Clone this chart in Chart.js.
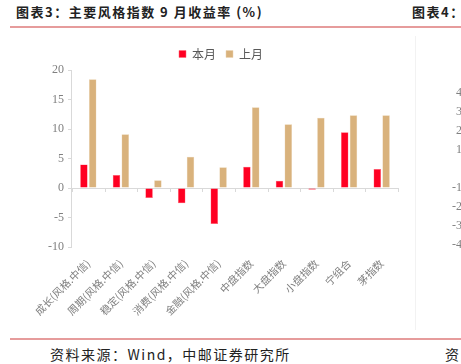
<!DOCTYPE html>
<html>
<head>
<meta charset="utf-8">
<script src="https://cdn.jsdelivr.net/npm/chart.js@4"></script>
<style>
  html, body { margin: 0; padding: 0; background: #fff; }
  body { width: 461px; height: 364px; position: relative; overflow: hidden; font-family: "Noto Sans CJK SC", sans-serif; }
  .title { position: absolute; top: 2px; font-size: 13px; font-weight: bold; color: #222; letter-spacing: 1.5px; white-space: nowrap; }
  .rule { position: absolute; left: 10px; right: 0; height: 2px; background: #e69c9c; }
  .source { position: absolute; top: 344px; font-size: 14px; color: #222; letter-spacing: 1.5px; white-space: nowrap; }
  .frame { position: absolute; left: 415px; top: 36px; width: 1px; height: 294px; background: #f2f2f2; }
  #wrap1 { position: absolute; left: 0; top: 35px; width: 444px; height: 295px; }
  #wrap2 { position: absolute; left: 449px; top: 35px; width: 300px; height: 295px; }
</style>
</head>
<body>
<div class="title" style="left:16px">图表3：主要风格指数 9 月收益率 (%)</div>
<div class="title" style="left:412px">图表4：</div>
<div class="rule" style="top:26px"></div>
<div class="frame"></div>
<div id="wrap1"><canvas id="chart1"></canvas></div>
<div id="wrap2"><canvas id="chart2"></canvas></div>
<div class="rule" style="top:338px"></div>
<div class="source" style="left:50px">资料来源：Wind，中邮证券研究所</div>
<div class="source" style="left:445px">资</div>
<script>
// categories and monthly returns (%)
const categories = ['成长(风格.中信)', '周期(风格.中信)', '稳定(风格.中信)', '消费(风格.中信)', '金融(风格.中信)',
  '中盘指数', '大盘指数', '小盘指数', '宁组合', '茅指数'];
const thisMonth = [4.0, 2.2, -1.7, -2.6, -6.1, 3.6, 1.25, -0.3, 9.45, 3.2];
const lastMonth = [18.45, 9.1, 1.3, 5.3, 3.5, 13.7, 10.8, 11.9, 12.35, 12.35];
const seriesNames = ['本月', '上月'];

// the next chart on the page, only its axis shows at the right edge
const nextCategories = ['成长(风格.中信)'];
const nextValues = [];

const axisGray = '#d9d9d9';
const textGray = '#808080';

// small tick marks on the zero line between categories
const zeroTicks = {
  id: 'zeroTicks',
  afterDatasetsDraw(chart) {
    const x = chart.scales.x, y = chart.scales.y;
    const y0 = y.getPixelForValue(0);
    const ctx = chart.ctx;
    ctx.save();
    ctx.strokeStyle = axisGray;
    ctx.lineWidth = 1;
    const step = (x.right - x.left) / categories.length;
    for (let i = 0; i <= categories.length; i++) {
      const px = Math.round(x.left + i * step) + 0.5;
      ctx.beginPath();
      ctx.moveTo(px, y0);
      ctx.lineTo(px, y0 + 4);
      ctx.stroke();
    }
    ctx.restore();
  }
};

new Chart(document.getElementById('chart1'), {
  type: 'bar',
  data: {
    labels: categories,
    datasets: [
      { label: seriesNames[0], data: thisMonth, backgroundColor: '#ff0022', borderColor: '#ff6677', borderWidth: 0.5 },
      { label: seriesNames[1], data: lastMonth, backgroundColor: '#d9b27c', borderColor: '#ead2b0', borderWidth: 0.5 }
    ]
  },
  options: {
    responsive: true,
    maintainAspectRatio: false,
    animation: false,
    layout: { padding: { left: 44, right: 46, top: 3, bottom: 0 } },
    datasets: { bar: { categoryPercentage: 0.54, barPercentage: 0.85 } },
    plugins: {
      legend: {
        position: 'top',
        labels: {
          boxWidth: 7, boxHeight: 7, padding: 10,
          color: '#595959',
          font: { family: '"Noto Sans CJK SC"', size: 12 }
        }
      },
      tooltip: { enabled: false }
    },
    scales: {
      x: {
        grid: { display: false },
        border: { display: false },
        afterFit(scale) { scale.height = 83; },
        ticks: {
          minRotation: 45, maxRotation: 45,
          color: textGray,
          font: { family: '"Noto Sans CJK SC"', size: 10.5 },
          padding: 2
        }
      },
      y: {
        min: -10, max: 20,
        ticks: { stepSize: 5, color: textGray, font: { family: '"Liberation Serif"', size: 12 }, padding: 4 },
        border: { color: axisGray },
        grid: {
          drawOnChartArea: true,
          color: ctx => ctx.tick && ctx.tick.value === 0 ? axisGray : 'rgba(0,0,0,0)',
          tickColor: axisGray,
          tickLength: 4
        }
      }
    }
  },
  plugins: [zeroTicks]
});

new Chart(document.getElementById('chart2'), {
  type: 'bar',
  data: { labels: nextCategories, datasets: [{ data: nextValues }] },
  options: {
    responsive: true,
    maintainAspectRatio: false,
    animation: false,
    layout: { padding: { left: 0, top: 58 } },
    plugins: { legend: { display: false }, tooltip: { enabled: false } },
    scales: {
      x: {
        grid: { display: false },
        border: { display: false },
        afterFit(scale) { scale.height = 85; },
        ticks: { minRotation: 45, maxRotation: 45, color: textGray, font: { family: '"Noto Sans CJK SC"', size: 10.5 } }
      },
      y: {
        min: -40, max: 40,
        ticks: { stepSize: 10, color: textGray, font: { family: '"Liberation Serif"', size: 12 } },
        border: { display: false },
        grid: { display: false }
      }
    }
  }
});
</script>
</body>
</html>
